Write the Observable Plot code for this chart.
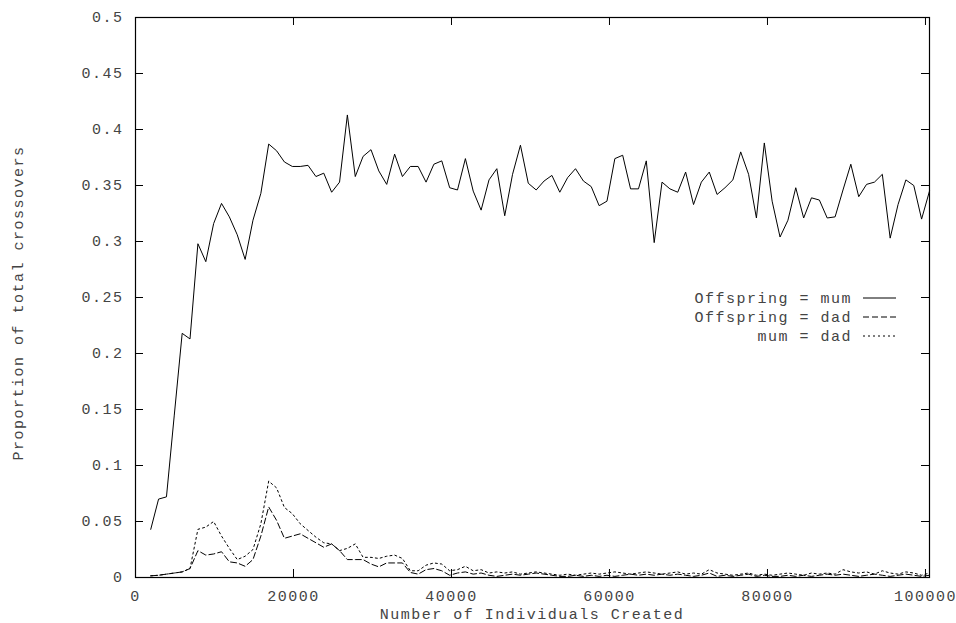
<!DOCTYPE html>
<html><head><meta charset="utf-8">
<script src="https://cdn.jsdelivr.net/npm/d3@7"></script>
<script src="https://cdn.jsdelivr.net/npm/@observablehq/plot@0.6"></script>
<style>html,body{margin:0;padding:0;background:#fff}</style>
</head><body><div id="chart"></div>
<script>
const individuals = [
  1930, 2920, 3920, 4910, 5910, 6900, 7900, 8900, 9890, 10890,
  11880, 12880, 13880, 14870, 15870, 16860, 17860, 18850, 19850, 20850,
  21840, 22840, 23830, 24830, 25830, 26820, 27820, 28810, 29810, 30800,
  31800, 32800, 33790, 34790, 35780, 36780, 37770, 38770, 39770, 40760,
  41760, 42750, 43750, 44750, 45740, 46740, 47730, 48730, 49720, 50720,
  51720, 52710, 53710, 54700, 55700, 56700, 57690, 58690, 59680, 60680,
  61670, 62670, 63670, 64660, 65660, 66650, 67650, 68640, 69640, 70640,
  71630, 72630, 73620, 74620, 75620, 76610, 77610, 78600, 79600, 80590,
  81590, 82590, 83580, 84580, 85570, 86570, 87560, 88560, 89560, 90550,
  91550, 92540, 93540, 94540, 95530, 96530, 97520, 98520, 99510, 100510
];
const offspringMum = [
  0.043, 0.070, 0.072, 0.145, 0.218, 0.213, 0.298, 0.282, 0.316, 0.334,
  0.322, 0.306, 0.284, 0.319, 0.343, 0.387, 0.381, 0.371, 0.367, 0.367,
  0.368, 0.358, 0.361, 0.344, 0.353, 0.413, 0.358, 0.376, 0.382, 0.363,
  0.351, 0.378, 0.358, 0.367, 0.367, 0.353, 0.369, 0.372, 0.348, 0.346,
  0.374, 0.345, 0.328, 0.355, 0.365, 0.323, 0.360, 0.386, 0.352, 0.346,
  0.354, 0.359, 0.344, 0.357, 0.365, 0.354, 0.349, 0.332, 0.336, 0.374,
  0.377, 0.347, 0.347, 0.372, 0.299, 0.353, 0.347, 0.344, 0.362, 0.333,
  0.353, 0.362, 0.342, 0.348, 0.355, 0.380, 0.360, 0.321, 0.388, 0.336,
  0.304, 0.319, 0.348, 0.321, 0.339, 0.337, 0.321, 0.322, 0.346, 0.369,
  0.340, 0.351, 0.353, 0.360, 0.303, 0.333, 0.355, 0.350, 0.320, 0.345
];
const offspringDad = [
  0.0015, 0.002, 0.003, 0.004, 0.005, 0.008, 0.024, 0.020, 0.021, 0.023,
  0.014, 0.013, 0.010, 0.016, 0.037, 0.063, 0.051, 0.035, 0.037, 0.039,
  0.035, 0.031, 0.027, 0.030, 0.024, 0.016, 0.016, 0.016, 0.012, 0.0095,
  0.013, 0.013, 0.013, 0.0045, 0.003, 0.007, 0.008, 0.006, 0.002, 0.004,
  0.005, 0.003, 0.004, 0.002, 0.001, 0.002, 0.003, 0.002, 0.003, 0.004,
  0.003, 0.002, 0.001, 0.001, 0.002, 0.001, 0.002, 0.001, 0.002, 0.001,
  0.002, 0.003, 0.002, 0.003, 0.002, 0.003, 0.002, 0.003, 0.002, 0.001,
  0.002, 0.004, 0.001, 0.002, 0.001, 0.002, 0.003, 0.001, 0.002, 0.001,
  0.001, 0.002, 0.001, 0.002, 0.001, 0.002, 0.003, 0.002, 0.003, 0.002,
  0.001, 0.002, 0.003, 0.002, 0.001, 0.002, 0.003, 0.002, 0.001, 0.002
];
const mumEqualsDad = [
  0.0015, 0.002, 0.003, 0.004, 0.005, 0.008, 0.043, 0.045, 0.050, 0.037,
  0.026, 0.016, 0.019, 0.025, 0.048, 0.086, 0.080, 0.0625, 0.057, 0.048,
  0.042, 0.036, 0.031, 0.030, 0.024, 0.026, 0.030, 0.018, 0.018, 0.017,
  0.019, 0.020, 0.017, 0.006, 0.006, 0.011, 0.013, 0.012, 0.006, 0.007,
  0.010, 0.006, 0.007, 0.004, 0.005, 0.004, 0.005, 0.003, 0.004, 0.005,
  0.004, 0.003, 0.002, 0.003, 0.002, 0.003, 0.004, 0.003, 0.004, 0.005,
  0.004, 0.003, 0.004, 0.005, 0.004, 0.003, 0.004, 0.005, 0.003, 0.004,
  0.003, 0.007, 0.004, 0.003, 0.002, 0.003, 0.004, 0.002, 0.003, 0.002,
  0.003, 0.004, 0.003, 0.002, 0.004, 0.003, 0.004, 0.003, 0.007, 0.005,
  0.004, 0.005, 0.003, 0.006, 0.004, 0.003, 0.005, 0.004, 0.002, 0.004
];
const xTicks = [0, 20000, 40000, 60000, 80000, 100000];
const yTicks = [0, 0.05, 0.1, 0.15, 0.2, 0.25, 0.3, 0.35, 0.4, 0.45, 0.5];
const seriesNames = ["Offspring = mum", "Offspring = dad", "mum = dad"];
const seriesValues = [offspringMum, offspringDad, mumEqualsDad];
const seriesDash = [null, "6,3", "2,3"];
const xTitle = "Number of Individuals Created";
const yTitle = "Proportion of total crossovers";

const W = 956, H = 623, ML = 135, MR = 27, MT = 17, MB = 46;
const FONT = "'Liberation Mono', 'DejaVu Sans Mono', monospace";
const FS = 15, LS = "1.5px", TXT = "#444";
const tables = seriesValues.map(vals => individuals.map((x, i) => ({x, y: vals[i]})));
const fmtY = d => String(+d.toFixed(2));

const chart = Plot.plot({
  width: W, height: H,
  marginLeft: ML, marginRight: MR, marginTop: MT, marginBottom: MB,
  style: {fontFamily: FONT, fontSize: FS + "px", letterSpacing: LS, color: TXT, background: "#fff"},
  x: {domain: [0, 100510]},
  y: {domain: [0, 0.5]},
  marks: [
    ...tables.map((t, i) => Plot.line(t, {x: "x", y: "y", stroke: "#000", strokeWidth: 1, strokeDasharray: seriesDash[i]})),
    Plot.ruleX(xTicks, {stroke: "#000", insetTop: (H - MT - MB) - 8}),
    Plot.ruleX(xTicks, {stroke: "#000", insetBottom: (H - MT - MB) - 8}),
    Plot.ruleY(yTicks, {stroke: "#000", insetRight: (W - ML - MR) - 8}),
    Plot.ruleY(yTicks, {stroke: "#000", insetLeft: (W - ML - MR) - 8}),
    Plot.axisX(xTicks, {anchor: "bottom", tickSize: 0, tickPadding: 13, label: null, tickFormat: d => String(d)}),
    Plot.axisY(yTicks, {anchor: "left", tickSize: 0, tickPadding: 12, label: null, tickFormat: fmtY}),
    Plot.frame({stroke: "#000", strokeWidth: 1.2})
  ]
});

const svg = d3.select(chart);
const addText = (sel) => sel.attr("fill", TXT).attr("font-family", FONT)
  .attr("font-size", FS).style("letter-spacing", LS);
addText(svg.append("text")
  .attr("x", 532).attr("y", 619)
  .attr("text-anchor", "middle"))
  .text(xTitle);
addText(svg.append("text")
  .attr("transform", "translate(23,303) rotate(-90)")
  .attr("text-anchor", "middle"))
  .text(yTitle);

const legend = svg.append("g");
seriesNames.forEach((name, i) => {
  const cy = 298 + i * 19;
  addText(legend.append("text")
    .attr("x", 852).attr("y", cy)
    .attr("dy", "0.35em")
    .attr("text-anchor", "end"))
    .text(name);
  legend.append("line")
    .attr("x1", 863).attr("x2", 896).attr("y1", cy).attr("y2", cy)
    .attr("stroke", "#000").attr("stroke-width", 1)
    .attr("stroke-dasharray", seriesDash[i]);
});

document.getElementById("chart").appendChild(chart);
</script>
</body></html>
